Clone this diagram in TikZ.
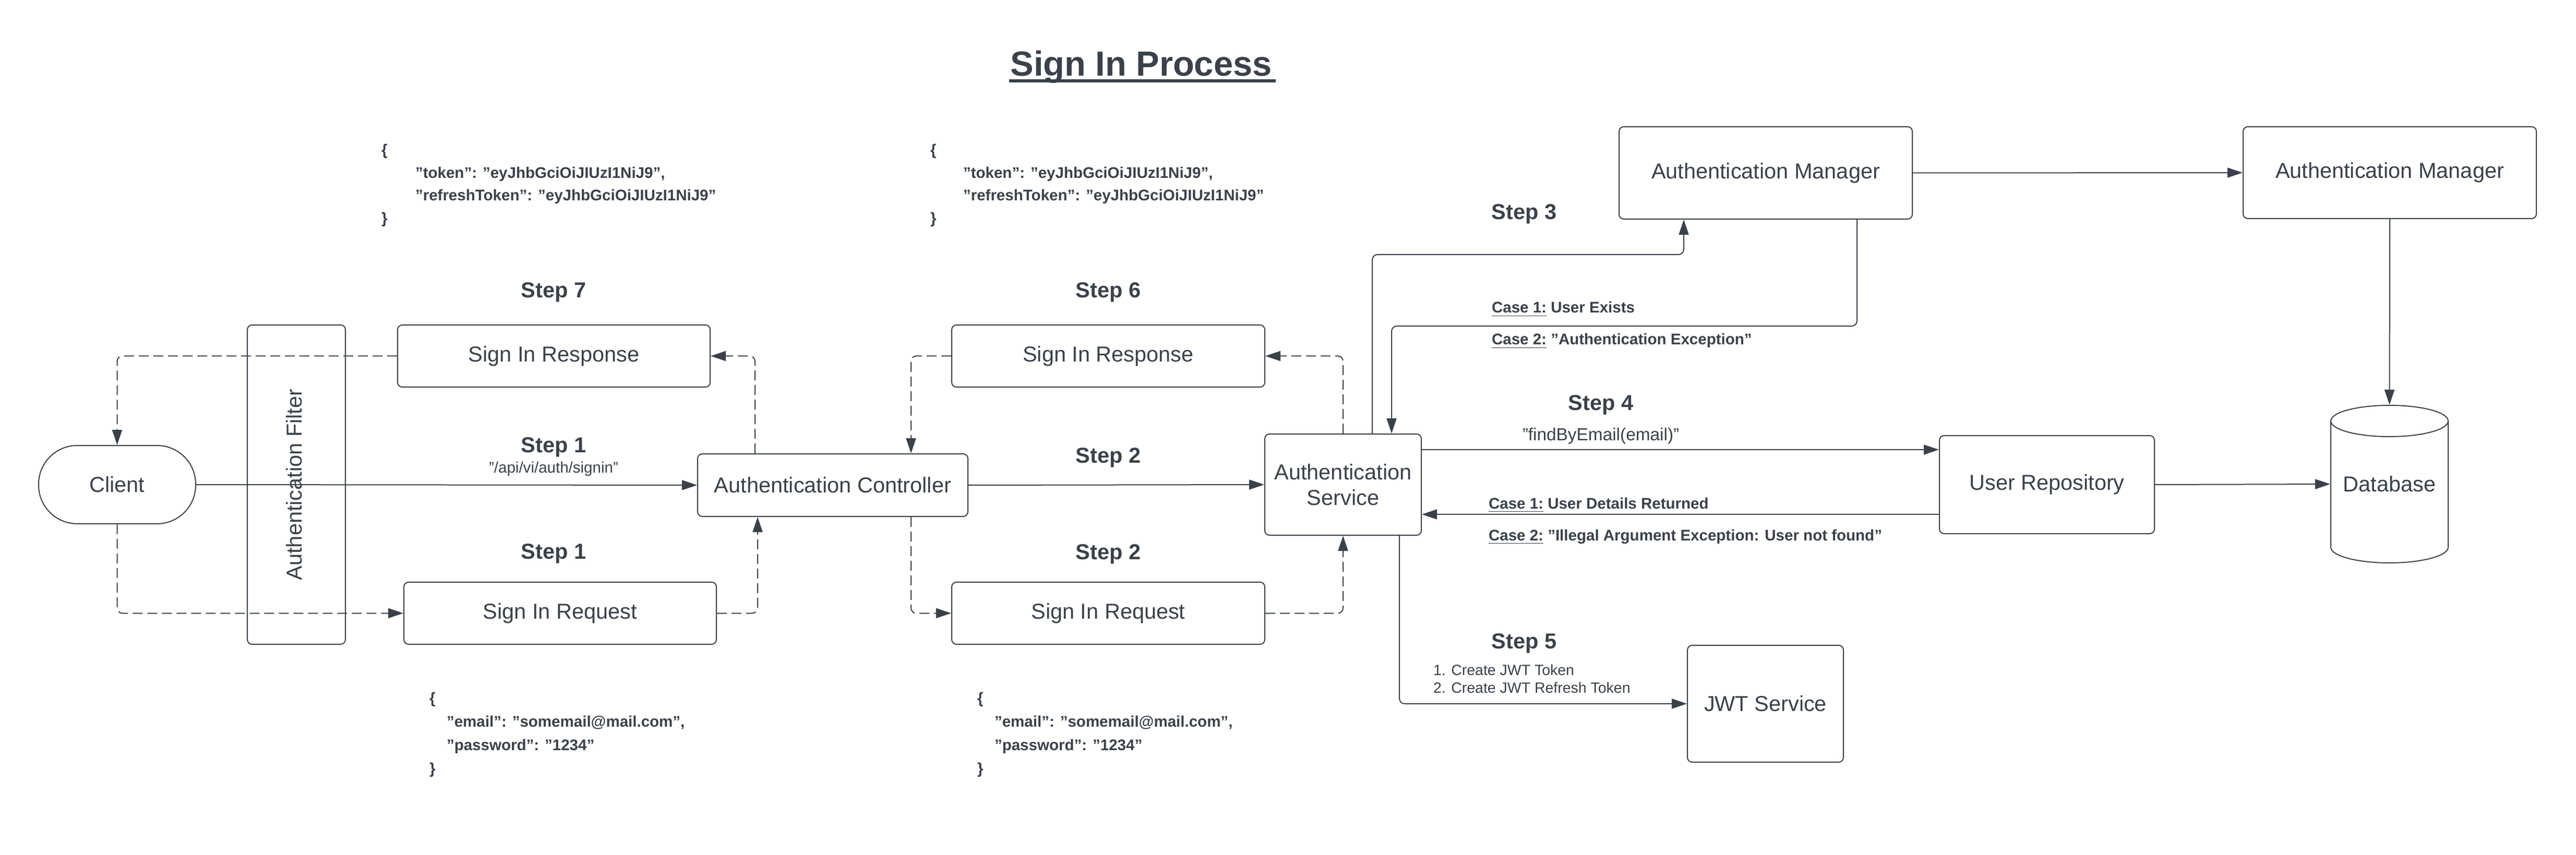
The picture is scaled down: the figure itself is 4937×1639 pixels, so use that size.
\documentclass[tikz,border=0pt]{standalone}
\usepackage{fontspec}
\setmainfont{Liberation Sans}
\usetikzlibrary{arrows.meta}
\definecolor{ink}{RGB}{58,65,74}
\begin{document}
\begin{tikzpicture}[x=0.1mm,y=-0.1mm, line width=0.2mm, color=ink,
  box/.style={draw=ink, fill=white, rounded corners=0.9mm, inner sep=0pt, align=center, font=\fontsize{11.8}{14}\selectfont},
  steplbl/.style={anchor=base, inner sep=0pt, font=\fontsize{11.8}{14}\selectfont\bfseries},
  jsonlbl/.style={anchor=base west, inner sep=0pt, font=\fontsize{8.4}{10}\selectfont\bfseries},
  plainlbl/.style={anchor=base, inner sep=0pt, font=\fontsize{8.4}{10}\selectfont},
  listlbl/.style={anchor=base west, inner sep=0pt, font=\fontsize{8.1}{10}\selectfont},
  conn/.style={draw=ink, rounded corners=1mm, -{Triangle[length=2.9mm,width=1.9mm]}},
  dconn/.style={conn, dash pattern=on 1.9mm off 0.9mm},
]
\fill[white] (0,0) rectangle (4937,1639);
\useasboundingbox (0,0) rectangle (4937,1639);

% title
\node[anchor=base, inner sep=0pt, font=\fontsize{19}{22}\selectfont\bfseries] (title) at (2187,146) {Sign In Process};
\draw[line width=0.6mm] ([xshift=-0.2mm,yshift=-0.9mm]title.base west) -- ([xshift=0.6mm,yshift=-0.9mm]title.base east);

% boxes
\node[box, rounded corners=7.4mm, minimum width=30.1mm, minimum height=15mm] (client) at (224.5,929) {Client};
\node[box, minimum width=18.8mm, minimum height=61.2mm] (filter) at (568,929) {};
\node[rotate=90, inner sep=0pt, font=\fontsize{11.8}{14}\selectfont] (filtertxt) at (564,929) {Authentication Filter};
\node[box, minimum width=59.9mm, minimum height=11.9mm] (sir1) at (1061.5,682.5) {Sign In Response};
\node[box, minimum width=59.9mm, minimum height=11.9mm] (sireq1) at (1073.5,1175.5) {Sign In Request};
\node[box, minimum width=51.8mm, minimum height=12mm] (ac) at (1596,930) {Authentication Controller};
\node[box, minimum width=60mm, minimum height=11.9mm] (sir2) at (2124,682.5) {Sign In Response};
\node[box, minimum width=60mm, minimum height=11.9mm] (sireq2) at (2124,1175.5) {Sign In Request};
\node[box, minimum width=30mm, minimum height=19.4mm] (as) at (2574,929) {Authentication\\Service};
\node[box, minimum width=56.2mm, minimum height=17.7mm] (am1) at (3384,331.5) {Authentication Manager};
\node[box, minimum width=56.2mm, minimum height=17.6mm] (am2) at (4580,331) {Authentication Manager};
\node[box, minimum width=41.2mm, minimum height=18.8mm] (ur) at (3923,929) {User Repository};
\node[box, minimum width=29.9mm, minimum height=22.4mm] (jwt) at (3383.5,1349) {JWT Service};

% database cylinder
\node[inner sep=0pt, minimum width=22.5mm, minimum height=30.2mm, font=\fontsize{11.8}{14}\selectfont] (db) at (4579.5,928) {Database};
\draw (4467,807) -- (4467,1049) arc[start angle=180, end angle=360, x radius=11.25mm, y radius=3mm] -- (4692,807);
\draw (4579.5,807) ellipse[x radius=11.25mm, y radius=3mm];

% step labels
\node[steplbl] (s7) at (1061,571) {Step 7};
\node[steplbl] (s1a) at (1061,867) {Step 1};
\node[steplbl] (s1b) at (1061,1071) {Step 1};
\node[steplbl] (s6) at (2124,571) {Step 6};
\node[steplbl] (s2a) at (2124,887) {Step 2};
\node[steplbl] (s2b) at (2124,1072) {Step 2};
\node[steplbl] (s3) at (2921,421) {Step 3};
\node[steplbl] (s4) at (3068,787) {Step 4};
\node[steplbl] (s5) at (2921,1243) {Step 5};

% other labels
\node[plainlbl] (path) at (1061,907) {"/api/vi/auth/signin"};
\node[anchor=base, inner sep=0pt, font=\fontsize{9.5}{11}\selectfont] (find) at (3068,844) {"findByEmail(email)"};
\node[jsonlbl] (c1a) at (2858,600) {\underline{Case 1:} User Exists};
\node[jsonlbl] (c2a) at (2858,661) {\underline{Case 2:} "Authentication Exception"};
\node[jsonlbl] (c1b) at (2852,975) {\underline{Case 1:} User Details Returned};
\node[jsonlbl] (c2b) at (2852,1036) {\underline{Case 2:} "Illegal Argument Exception: User not found"};
\node[listlbl] (l1) at (2746,1294) {1. Create JWT Token};
\node[listlbl] (l2) at (2746,1328) {2. Create JWT Refresh Token};

% JSON blocks (top)
\node[jsonlbl] (ja1) at (730,298) {\{};
\node[jsonlbl] (ja2) at (795,342) {"token": "eyJhbGciOiJIUzI1NiJ9",};
\node[jsonlbl] (ja3) at (795,385) {"refreshToken": "eyJhbGciOiJIUzI1NiJ9"};
\node[jsonlbl] (ja4) at (730,429) {\}};
\node[jsonlbl] (jb1) at (1782,298) {\{};
\node[jsonlbl] (jb2) at (1845,342) {"token": "eyJhbGciOiJIUzI1NiJ9",};
\node[jsonlbl] (jb3) at (1845,385) {"refreshToken": "eyJhbGciOiJIUzI1NiJ9"};
\node[jsonlbl] (jb4) at (1782,429) {\}};
% JSON blocks (bottom)
\node[jsonlbl] (jc1) at (822,1348) {\{};
\node[jsonlbl] (jc2) at (855,1393) {"email": "somemail@mail.com",};
\node[jsonlbl] (jc3) at (855,1438) {"password": "1234"};
\node[jsonlbl] (jc4) at (822,1483) {\}};
\node[jsonlbl] (jd1) at (1872,1348) {\{};
\node[jsonlbl] (jd2) at (1905,1393) {"email": "somemail@mail.com",};
\node[jsonlbl] (jd3) at (1905,1438) {"password": "1234"};
\node[jsonlbl] (jd4) at (1872,1483) {\}};

% connectors
\draw[conn] (client.east) -- (ac.west);
\draw[dconn] (client.south) |- (sireq1.west);
\draw[dconn] (sireq1.east) -| ([xshift=11.6mm]ac.south west);
\draw[dconn] ([xshift=11.1mm]ac.north west) |- (sir1.east);
\draw[dconn] (sir1.west) -| (client.north);
\draw[conn] (ac.east) -- (as.west);
\draw[dconn] ([xshift=-11mm]ac.south east) |- (sireq2.west);
\draw[dconn] (sireq2.east) -| (as.south);
\draw[dconn] (as.north) |- (sir2.east);
\draw[dconn] (sir2.west) -| ([xshift=-11mm]ac.north east);
\draw[conn] ([xshift=5.6mm]as.north) |- ([xshift=-15.7mm,yshift=-6.7mm]am1.south) -- ([xshift=-15.7mm]am1.south);
\draw[conn] ([xshift=17.5mm]am1.south) |- ([xshift=9.3mm,yshift=20.6mm]as.north) -- ([xshift=9.3mm]as.north);
\draw[conn] ([yshift=6.7mm]as.east) -- ([yshift=6.7mm]ur.west);
\draw[conn] ([yshift=-5.7mm]ur.west) -- ([yshift=-5.7mm]as.east);
\draw[conn] ([xshift=10.8mm]as.south) |- (jwt.west);
\draw[conn] (am1.east) -- (am2.west);
\draw[conn] (am2.south) -- (db.north);
\draw[conn] (ur.east) -- (db.west);
\end{tikzpicture}
\end{document}
